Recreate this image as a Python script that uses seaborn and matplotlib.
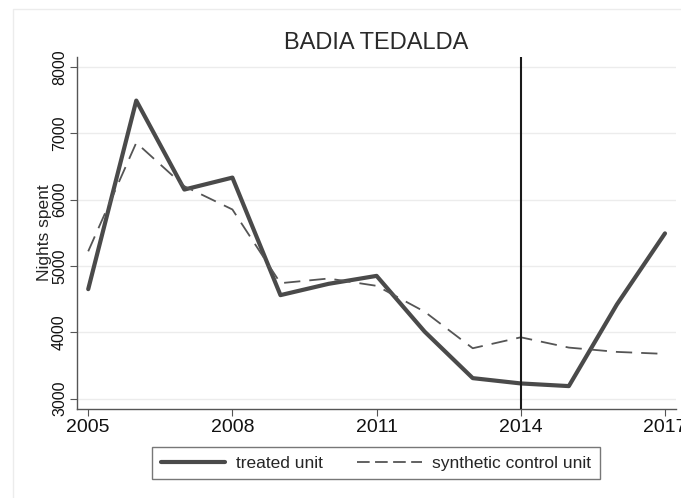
import matplotlib
matplotlib.use("Agg")
import matplotlib.pyplot as plt
import seaborn as sns
import pandas as pd
from matplotlib.patches import Rectangle

years = [2005, 2006, 2007, 2008, 2009, 2010, 2011, 2012, 2013, 2014, 2015, 2016, 2017]
treated = [4650, 7490, 6150, 6330, 4560, 4730, 4850, 4010, 3310, 3230, 3190, 4420, 5490]
synthetic = [5220, 6855, 6200, 5850, 4740, 4810, 4700, 4310, 3760, 3925, 3770, 3705, 3675]
xticks = [2005, 2008, 2011, 2014, 2017]
yticks = [3000, 4000, 5000, 6000, 7000, 8000]
title = "BADIA TEDALDA"
ylabel = "Nights spent"
labels = ["treated unit", "synthetic control unit"]

sns.set_theme(style="white")
plt.rcParams['font.family'] = ['Liberation Sans', 'DejaVu Sans']

df = pd.DataFrame({"year": years, "treated": treated, "synthetic": synthetic})

fig = plt.figure(figsize=(6.81, 4.98), dpi=100)
fig.patch.set_facecolor("white")
fig.add_artist(Rectangle((13/681, -0.01), 1.0, 1 - 9/498 + 0.01, transform=fig.transFigure,
                         fill=False, edgecolor="#ececec", linewidth=1.0))
ax = fig.add_axes([0.1126, 0.1787, 0.8801, 0.7068])

sns.lineplot(data=df, x="year", y="treated", ax=ax, color="#4a4a4a", linewidth=3.0,
             label=labels[0])
sns.lineplot(data=df, x="year", y="synthetic", ax=ax, color="#555555", linewidth=1.3,
             dashes=False, label=labels[1])
ax.lines[1].set_dashes([9, 5])
ax.axvline(2014, color="#1a1a1a", linewidth=1.5, zorder=3)

ax.set_xlim(2004.76, 2017.23)
ax.set_ylim(2845, 8146)
ax.set_xticks(xticks)
ax.set_yticks(yticks)
ax.set_xticklabels([str(x) for x in xticks], fontsize=14)
ax.set_yticklabels([str(y) for y in yticks], fontsize=11.5, rotation=90, va="center")
ax.set_xlabel("")
ax.set_ylabel(ylabel, fontsize=12.5, labelpad=0)
ax.set_title(title, fontsize=17, color="#2a2a2a", pad=6)

ax.yaxis.grid(True, color="#ececec", linewidth=1.0)
ax.xaxis.grid(False)
for s in ["top", "right"]:
    ax.spines[s].set_visible(False)
for s in ["left", "bottom"]:
    ax.spines[s].set_color("#555555")
    ax.spines[s].set_linewidth(1.0)
ax.tick_params(axis="both", which="major", direction="out", length=5, width=0.8,
               color="#555555", labelcolor="#111111", bottom=True, left=True, pad=2)

leg = ax.legend(loc="center", bbox_to_anchor=(376/681, 1 - 463/498),
                bbox_transform=fig.transFigure, ncol=2, frameon=True, fancybox=False,
                fontsize=12.5, handlelength=3.7, handletextpad=0.6, columnspacing=2.0,
                borderpad=0.5)
leg.get_frame().set_edgecolor("#555555")
leg.get_frame().set_linewidth(1.0)
leg.legend_handles[1].set_dashes([7, 3])

fig.savefig("out.png", dpi=100)
